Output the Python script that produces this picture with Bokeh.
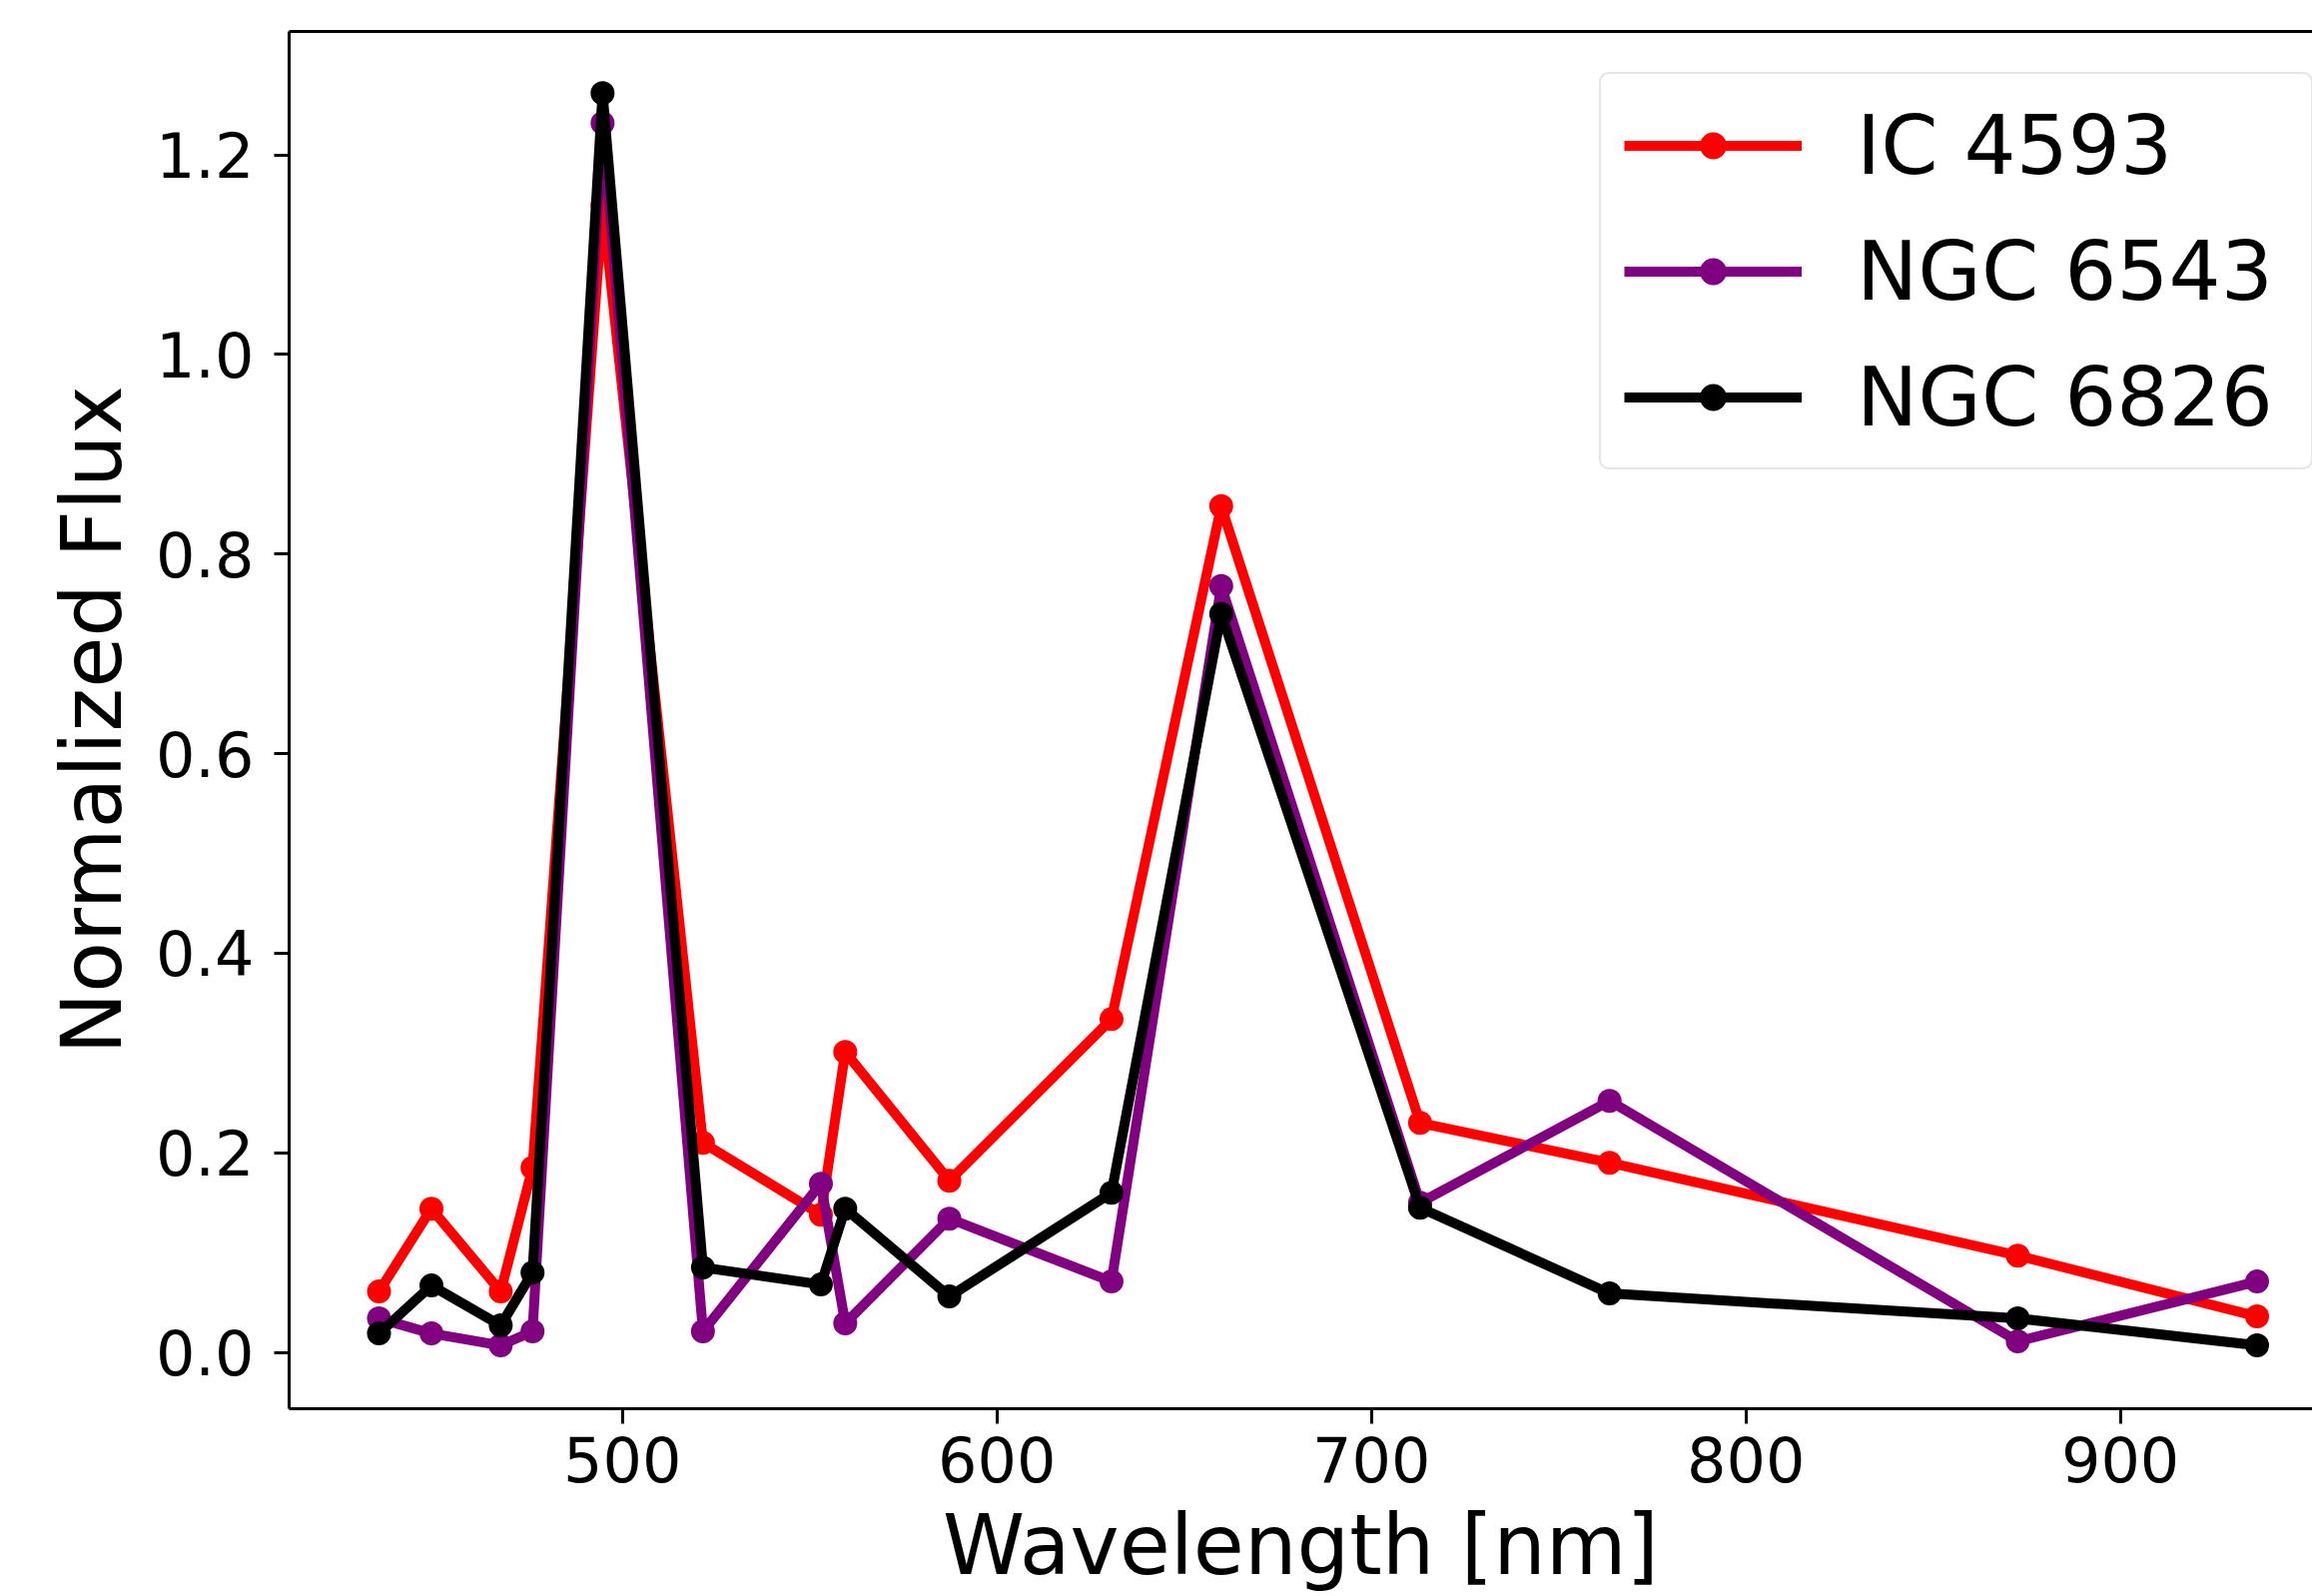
from bokeh.plotting import figure
from bokeh.models import (Range1d, FixedTicker, PrintfTickFormatter, LinearAxis,
                          Legend, LegendItem)
from bokeh.embed import file_html
from bokeh.resources import INLINE

# ---- data ----
wavelength = [435.0, 449.0, 467.5, 476.0, 494.7, 521.5, 553.0, 559.5,
              587.3, 630.6, 659.9, 713.0, 763.6, 872.6, 936.5]
ic4593 = [0.061, 0.144, 0.061, 0.185, 1.150, 0.210, 0.138, 0.301,
          0.172, 0.334, 0.848, 0.230, 0.190, 0.097, 0.036]
ngc6543 = [0.034, 0.019, 0.007, 0.021, 1.232, 0.021, 0.169, 0.029,
           0.134, 0.071, 0.768, 0.150, 0.252, 0.011, 0.071]
ngc6826 = [0.019, 0.067, 0.027, 0.080, 1.262, 0.085, 0.068, 0.144,
           0.056, 0.160, 0.740, 0.145, 0.059, 0.034, 0.007]

series_names = ["IC 4593", "NGC 6543", "NGC 6826"]
series_values = [ic4593, ngc6543, ngc6826]
series_colors = ["#ff0000", "#800080", "#000000"]

x_ticks = [500, 600, 700, 800, 900]
y_ticks = [0.0, 0.2, 0.4, 0.6, 0.8, 1.0, 1.2]

FONT = "DejaVu Sans"

p = figure(width=2315, height=1598, output_backend="svg", toolbar_location=None,
           x_range=Range1d(411.0, 951.3), y_range=Range1d(-0.0565, 1.3238),
           min_border_left=289, min_border_right=0, min_border_top=31,
           min_border_bottom=186)
p.xgrid.visible = False
p.ygrid.visible = False
p.outline_line_color = None
p.background_fill_color = "white"
p.border_fill_color = "white"

for ax in (p.xaxis[0], p.yaxis[0]):
    ax.axis_line_width = 3
    ax.axis_line_color = "black"
    ax.major_tick_line_width = 3
    ax.major_tick_line_color = "black"
    ax.major_tick_out = 15
    ax.major_tick_in = 0
    ax.minor_tick_line_color = None
    ax.major_label_text_font = FONT
    ax.major_label_text_font_size = "62px"
    ax.major_label_text_color = "black"
    ax.axis_label_text_font = FONT
    ax.axis_label_text_font_size = "83px"
    ax.axis_label_text_font_style = "normal"
    ax.axis_label_text_color = "black"

p.xaxis[0].ticker = FixedTicker(ticks=x_ticks)
p.xaxis[0].major_label_standoff = 12
p.xaxis[0].axis_label = "Wavelength [nm]"
p.xaxis[0].axis_label_standoff = 12

p.yaxis[0].ticker = FixedTicker(ticks=y_ticks)
p.yaxis[0].formatter = PrintfTickFormatter(format="%.1f")
p.yaxis[0].major_label_standoff = 20
p.yaxis[0].axis_label = "Normalized Flux"
p.yaxis[0].axis_label_standoff = 12

top_ax = LinearAxis(ticker=FixedTicker(ticks=[]), axis_line_width=3,
                    axis_line_color="black", major_tick_line_color=None,
                    minor_tick_line_color=None, major_label_text_font_size="0px")
p.add_layout(top_ax, "above")

items = []
for name, vals, col in zip(series_names, series_values, series_colors):
    lr = p.line(wavelength, vals, line_color=col, line_width=10, line_join="round")
    sr = p.scatter(wavelength, vals, marker="circle", size=24, fill_color=col,
                   line_color=col, line_width=0)
    items.append(LegendItem(label=name, renderers=[lr, sr]))

legend = Legend(items=items, location=(1312, 940),
                label_text_font=FONT, label_text_font_size="82px",
                label_text_color="black",
                glyph_width=178, glyph_height=67, label_height=96,
                label_width=432,
                spacing=30, padding=23, label_standoff=55,
                border_line_color="#cccccc", border_line_width=2,
                background_fill_color="white", background_fill_alpha=0.8,
                border_radius=10)
p.add_layout(legend)

open("out.html", "w").write(file_html(p, INLINE))
